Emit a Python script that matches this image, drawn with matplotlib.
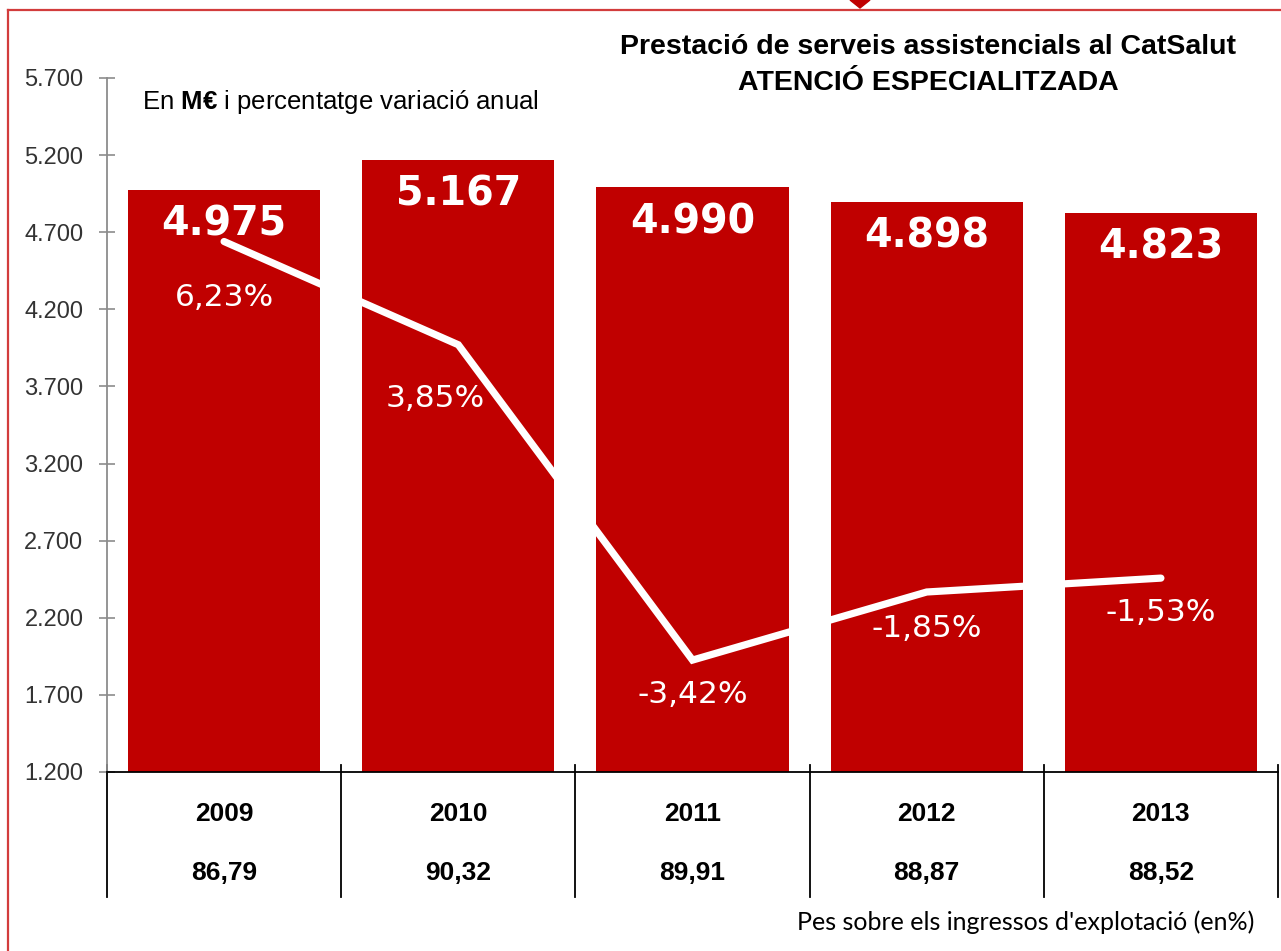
import matplotlib.pyplot as plt
from matplotlib.lines import Line2D
from matplotlib.patches import Polygon
from matplotlib.transforms import blended_transform_factory

years = ["2009", "2010", "2011", "2012", "2013"]
spending = [4975, 5167, 4990, 4898, 4823]
spending_labels = ["4.975", "5.167", "4.990", "4.898", "4.823"]
variation = [6.23, 3.85, -3.42, -1.85, -1.53]
variation_labels = ["6,23%", "3,85%", "-3,42%", "-1,85%", "-1,53%"]
share = ["86,79", "90,32", "89,91", "88,87", "88,52"]
yticks = [1200, 1700, 2200, 2700, 3200, 3700, 4200, 4700, 5200, 5700]
ytick_labels = ["1.200", "1.700", "2.200", "2.700", "3.200", "3.700", "4.200", "4.700", "5.200", "5.700"]

RED = "#C00000"
W, H = 1281, 951


def draw():
    fig = plt.figure(figsize=(W / 100, H / 100), dpi=100)
    fig.patch.set_facecolor("white")
    ax = fig.add_axes([107 / W, 1 - 772 / H, (1278 - 107) / W, 694 / H])

    x = list(range(len(years)))
    ax.bar(x, spending, width=0.82, color=RED, zorder=2)
    ax.set_xlim(-0.5, len(years) - 0.5)
    ax.set_ylim(1200, 5700)
    ax.set_yticks(yticks, ytick_labels)
    ax.set_xticks([])
    for s in ["top", "right"]:
        ax.spines[s].set_visible(False)
    ax.spines["left"].set_color("#8c8c8c")
    ax.spines["left"].set_linewidth(1.3)
    ax.spines["bottom"].set_color("black")
    ax.spines["bottom"].set_linewidth(1.3)
    ax.tick_params(axis="y", direction="inout", length=12, width=1.2, color="#8c8c8c",
                   labelsize=17, labelcolor="#333333", pad=11)
    for lab in ax.get_yticklabels():
        lab.set_family("Liberation Sans")

    for i, (v, t) in enumerate(zip(spending, spending_labels)):
        ax.annotate(t, (i, v), xytext=(0, -25), textcoords="offset points", ha="center", va="center",
                    color="white", fontsize=28.5, fontweight="bold", family="DejaVu Sans", zorder=4)

    # table under the axis
    tr = blended_transform_factory(ax.transData, ax.transAxes)
    for k in range(len(years) + 1):
        ax.add_line(Line2D([k - 0.5, k - 0.5], [0.010, -0.18], transform=tr, color="black",
                           lw=1.3, clip_on=False))
    for i, (yr, sh) in enumerate(zip(years, share)):
        ax.text(i, -0.0605, yr, transform=tr, ha="center", va="center", fontsize=19,
                fontweight="bold", family="Liberation Sans")
        ax.text(i, -0.1455, sh, transform=tr, ha="center", va="center", fontsize=19,
                fontweight="bold", family="Liberation Sans")

    # percentage line on hidden second scale
    ax2 = ax.twinx()
    ax2.set_ylim(-6, 10)
    ax2.axis("off")
    ax2.plot(x, variation, color="white", lw=5.2, solid_capstyle="round", solid_joinstyle="miter", zorder=3)
    offsets = [(0, -40), (-16.5, -39), (0, -25), (0, -26.5), (0, -25)]
    for i, (v, t) in enumerate(zip(variation, variation_labels)):
        ax2.annotate(t, (i, v), xytext=offsets[i], textcoords="offset points", ha="center", va="center",
                     color="white", fontsize=22.5, family="DejaVu Sans")

    # titles
    fig.text(928 / W, 1 - 47 / H, "Prestació de serveis assistencials al CatSalut", ha="center", va="center",
             fontsize=20.5, fontweight="bold", family="Liberation Sans")
    fig.text(928 / W, 1 - 83 / H, "ATENCIÓ ESPECIALITZADA", ha="center", va="center",
             fontsize=20.5, fontweight="bold", family="Liberation Sans")
    fig.text(142 / W, 1 - 102 / H, r"En $\mathbf{M€}$ i percentatge variació anual", ha="left", va="center",
             fontsize=18.5, family="Liberation Sans")
    fig.text(1254 / W, 1 - 922 / H, "Pes sobre els ingressos d'explotació (en%)", ha="right", va="center",
             fontsize=18, family="Lato")

    # red frame and marker
    fig.add_artist(Line2D([7.5 / W, 7.5 / W], [0, 1 - 10 / H], color="#d23c3c", lw=1.6))
    fig.add_artist(Line2D([7.5 / W, 1], [1 - 10 / H, 1 - 10 / H], color="#d23c3c", lw=1.6))
    fig.add_artist(Polygon([[850 / W, 1], [870 / W, 1], [860 / W, 1 - 8 / H]], closed=True,
                           color=RED, transform=fig.transFigure))

    fig.savefig("out.png", dpi=100)


if __name__ == "__main__":
    plt.rcParams["mathtext.fontset"] = "custom"
    plt.rcParams["mathtext.rm"] = "Liberation Sans"
    plt.rcParams["mathtext.bf"] = "Liberation Sans:bold"
    draw()
